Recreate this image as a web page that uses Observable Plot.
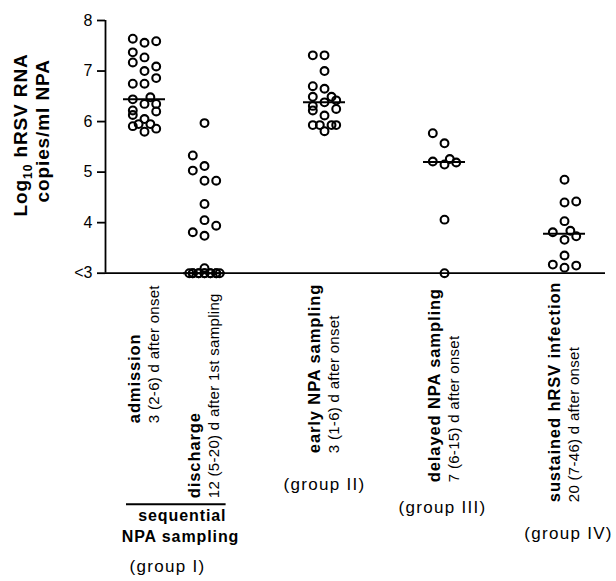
<!DOCTYPE html>
<html><head><meta charset="utf-8">
<script src="https://cdn.jsdelivr.net/npm/d3@7"></script>
<script src="https://cdn.jsdelivr.net/npm/@observablehq/plot@0.6"></script>
<style>body{margin:0;background:#fff}</style>
</head><body><div id="chart"></div>
<script>
// ---- data ----
const categories = ["admission", "discharge", "early NPA sampling", "delayed NPA sampling", "sustained hRSV infection"];
const subLabels = ["3 (2-6) d after onset", "12 (5-20) d after 1st sampling", "3 (1-6) d after onset", "7 (6-15) d after onset", "20 (7-46) d after onset"];
const groupLabels = ["(group I)", "(group II)", "(group III)", "(group IV)"];
const bracketLabel = ["sequential", "NPA sampling"];
const yTitle = ["Log10 hRSV RNA", "copies/ml NPA"];
const yTicks = [3, 4, 5, 6, 7, 8];
const yTickLabels = ["<3", "4", "5", "6", "7", "8"];
const categoryIndex = [0, 1, 3, 5, 7]; // column order on the axis (with gaps)
const medians = [6.44, 3.0, 6.38, 5.20, 3.78];

const admissionValues = [7.64,7.56,7.59,7.37,7.27,7.17,7.09,7.00,6.86,6.75,6.75,6.48,6.44,6.35,6.35,6.22,6.20,6.13,6.05,5.95,5.95,5.91,5.86,5.80];
const admissionJitter = [-1,0,1,-1,0,-1,1,0,1,-1,0,0.5,-1,0,1,-1,1,-1,0,-0.5,0.5,-1,1,0];
const dischargeValues = [5.97,5.33,5.12,5.03,4.83,4.83,4.37,4.05,3.94,3.81,3.74,3,3,3,3,3,3,3,3,3,3,3,3,3.1];
const dischargeJitter = [0,-1,0,-1,0,1,0,0,1,-1,0,-1.3,-1,-1,-0.5,-0.5,0,0,0.5,0.5,1,1,1.3,0];
const earlyValues = [7.31,7.31,7.00,6.70,6.65,6.49,6.49,6.42,6.38,6.31,6.25,6.22,6.12,5.93,5.93,5.93,5.93,5.81];
const earlyJitter = [-1,0,0,-1,0,-1,0.6,1,0,-1,1,-1,0,-1,-0.4,0.6,1,0];
const delayedValues = [5.77,5.57,5.26,5.21,5.19,5.15,4.06,3.00];
const delayedJitter = [-1,0,0.45,-1,1,0,0,0];
const sustainedValues = [4.85,4.40,4.42,4.03,3.81,3.84,3.66,3.73,3.35,3.17,3.11,3.15];
const sustainedJitter = [0,0,1,0,-1,0.5,0,1,0,-1,0,1];

// ---- table built from the arrays ----
const valueSets = [admissionValues, dischargeValues, earlyValues, delayedValues, sustainedValues];
const jitterSets = [admissionJitter, dischargeJitter, earlyJitter, delayedJitter, sustainedJitter];
const SLOT = 0.195;
const points = valueSets.flatMap((vals, g) => vals.map((v, j) => ({g, value: v, pos: categoryIndex[g] + jitterSets[g][j] * SLOT})));
const medianRows = medians.map((m, g) => ({m, x1: categoryIndex[g] - 0.35, x2: categoryIndex[g] + 0.35}));

// ---- layout (px offsets below the x axis line) ----
const FONT = "'Liberation Sans', Arial, Helvetica, sans-serif";
const labelDy = [150, 225, 180, 209, 229];
const groupLabelX = [0.5, 3, 5, 7];
const groupLabelDx = [-7, 0, -2, 4];
const groupLabelDy = [299, 217, 240, 266];
const X0 = -0.65, X1 = 7.683;

const marks = [
  Plot.ruleY([3], {strokeWidth: 1.8}),
  Plot.ruleX([X0], {y1: 3, y2: 8, strokeWidth: 1.8}),
  Plot.axisY({ticks: yTicks, tickFormat: d => yTickLabels[yTicks.indexOf(d)], tickSize: 8, tickPadding: 5, fontSize: 16, strokeWidth: 1.8, label: null}),
  Plot.dot(points, {x: "pos", y: "value", r: 3.9, stroke: "black", strokeWidth: 2.1, fill: "none"}),
  Plot.ruleY(medianRows, {y: "m", x1: "x1", x2: "x2", strokeWidth: 2}),
  // bracket under group I
  Plot.ruleY([3], {x1: categoryIndex[0] - 0.3, x2: categoryIndex[1] + 0.36, dy: 231, strokeWidth: 2}),
  Plot.text([bracketLabel[0]], {x: () => 0.63, frameAnchor: "bottom", dy: 248, text: d => d, fontWeight: "bold", fontSize: 16, lineAnchor: "bottom"}),
  Plot.text([bracketLabel[1]], {x: () => 0.6, frameAnchor: "bottom", dy: 269, text: d => d, fontWeight: "bold", fontSize: 16, lineAnchor: "bottom"}),
  // y title
  Plot.text([yTitle[0]], {frameAnchor: "left", dx: -85, dy: -12, rotate: -90, text: d => d, fontWeight: "bold", fontSize: 19, textAnchor: "middle", lineAnchor: "middle"}),
  Plot.text([yTitle[1]], {frameAnchor: "left", dx: -63, dy: -16, rotate: -90, text: d => d, fontWeight: "bold", fontSize: 19, textAnchor: "middle", lineAnchor: "middle"}),
];
categories.forEach((c, i) => {
  marks.push(Plot.text([c], {x: () => categoryIndex[i], frameAnchor: "bottom", dx: -10, dy: labelDy[i], rotate: -90, text: d => d, textAnchor: "start", lineAnchor: "middle", fontWeight: "bold", fontSize: 16.5}));
  marks.push(Plot.text([subLabels[i]], {x: () => categoryIndex[i], frameAnchor: "bottom", dx: 10, dy: labelDy[i], rotate: -90, text: d => d, textAnchor: "start", lineAnchor: "middle", fontSize: 15}));
});
groupLabels.forEach((t, i) => {
  marks.push(Plot.text([t], {x: () => groupLabelX[i], frameAnchor: "bottom", dx: groupLabelDx[i], dy: groupLabelDy[i], text: d => d, fontSize: 17, lineAnchor: "bottom"}));
});

const svg = Plot.plot({
  width: 616, height: 581,
  marginLeft: 105, marginRight: 11, marginTop: 20, marginBottom: 308.3,
  x: {domain: [X0, X1], axis: null},
  y: {domain: [3, 8], axis: null},
  style: {fontFamily: FONT, color: "black", background: "white", overflow: "visible"},
  marks
});

// letter spacing + subscript
const spacing = new Map();
categories.concat(bracketLabel, yTitle).forEach(t => spacing.set(t, "0.9px"));
groupLabels.forEach(t => spacing.set(t, "1.3px"));
subLabels.forEach(t => spacing.set(t, "0.3px"));
d3.select(svg).selectAll("text").each(function () {
  const t = this.textContent;
  if (spacing.has(t)) this.setAttribute("letter-spacing", spacing.get(t));
  if (t === yTitle[0]) {
    const el = d3.select(this);
    el.text(null);
    el.append("tspan").text("Log");
    el.append("tspan").attr("font-size", "12px").attr("dy", "5").text("10");
    el.append("tspan").attr("dy", "-5").text(" hRSV RNA");
  }
});
document.getElementById("chart").appendChild(svg);
</script>
</body></html>
